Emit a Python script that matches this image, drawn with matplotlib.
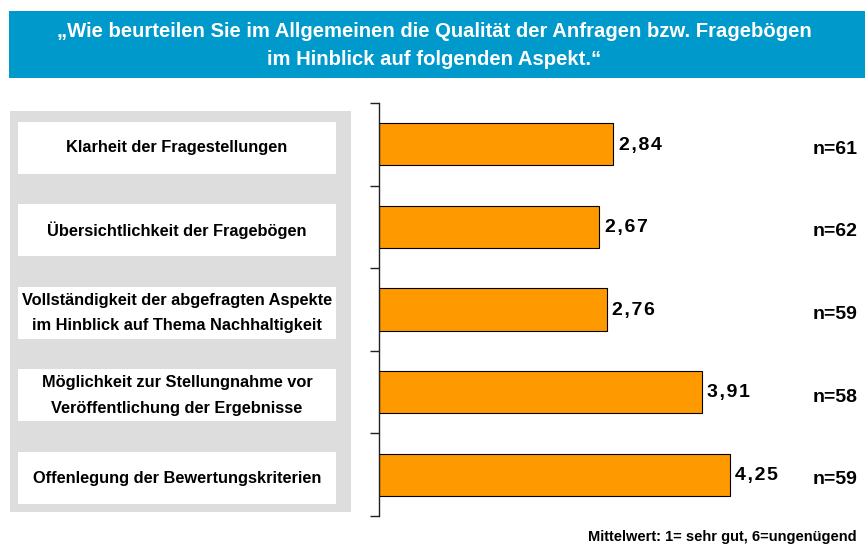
import matplotlib
matplotlib.use("Agg")
import matplotlib.pyplot as plt
from matplotlib.patches import Rectangle

plt.rcParams['font.family'] = ['Liberation Sans', 'DejaVu Sans']

# ---- data ----
categories = [
    "Klarheit der Fragestellungen",
    "Übersichtlichkeit der Fragebögen",
    "Vollständigkeit der abgefragten Aspekte\nim Hinblick auf Thema Nachhaltigkeit",
    "Möglichkeit zur Stellungnahme vor\nVeröffentlichung der Ergebnisse",
    "Offenlegung der Bewertungskriterien",
]
means = [2.84, 2.67, 2.76, 3.91, 4.25]
n_values = [61, 62, 59, 58, 59]
title = "„Wie beurteilen Sie im Allgemeinen die Qualität der Anfragen bzw. Fragebögen\nim Hinblick auf folgenden Aspekt.“"
footnote = "Mittelwert: 1= sehr gut, 6=ungenügend"

W, H = 866, 549
fig = plt.figure(figsize=(W / 100, H / 100), dpi=100)

def fx(px):
    return px / W

def fy(py):
    return 1 - py / H

# title banner
fig.patches.append(Rectangle((fx(9), fy(78)), fx(865) - fx(9), fy(11) - fy(78),
                             transform=fig.transFigure, facecolor="#0099CC",
                             edgecolor="none", zorder=0))
fig.text(fx(434), fy(45.5), title, color="white", fontsize=14.6, fontweight="bold",
         ha="center", va="center", linespacing=1.65)

# main bar axes
ax_left, ax_right, ax_top, ax_bot = 379, 866, 103, 516
ax = fig.add_axes([fx(ax_left), fy(ax_bot), fx(ax_right) - fx(ax_left), fy(ax_top) - fy(ax_bot)])
ax.set_facecolor("none")
ypos = list(range(len(categories)))
ax.barh(ypos, means, height=0.51, color="#FF9900", edgecolor="black", linewidth=0.8)
ax.set_xlim(0, (ax_right - ax_left) / 82.5)
ax.set_ylim(len(categories) - 0.5, -0.5)
for s in ["top", "right", "bottom"]:
    ax.spines[s].set_visible(False)
ax.spines["left"].set_color("#222222")
ax.spines["left"].set_linewidth(1.0)
ax.set_xticks([])
ax.set_yticks([i - 0.5 for i in range(len(categories) + 1)])
ax.set_yticklabels([])
ax.tick_params(axis="y", direction="out", length=6.5, width=1.0, color="#222222")

HAIR = "\u200a"
for i, v in enumerate(means):
    label = HAIR.join(f"{v:.2f}".replace(".", ","))
    ax.text(v + 0.07, i + 0.01, label, fontsize=14, fontweight="bold",
            ha="left", va="center", color="black")

nx = (858 - ax_left) / (ax_right - ax_left)
for i, n in enumerate(n_values):
    ax.text(nx, i + 0.06, f"n={n}", transform=ax.get_yaxis_transform(), fontsize=14,
            fontweight="bold", ha="right", va="center", color="black")

# left label panel
p_left, p_right = 10, 351
ax2 = fig.add_axes([fx(p_left), fy(ax_bot), fx(p_right) - fx(p_left), fy(ax_top) - fy(ax_bot)])
ax2.set_xlim(0, p_right - p_left)
ax2.set_ylim(len(categories) - 0.5 - 0.04, -0.5 - 0.04)
ax2.axis("off")
ax2.add_patch(Rectangle((0, (ax_bot - 512) / (ax_bot - ax_top)), 1,
                        (512 - 111) / (ax_bot - ax_top), transform=ax2.transAxes,
                        facecolor="#DDDDDD", edgecolor="none", zorder=0))
ax2.barh(ypos, [318] * len(categories), left=8, height=0.63, color="white",
         edgecolor="none", zorder=1)
for i, c in enumerate(categories):
    ax2.text(8 + 159, i, c, fontsize=11.8, fontweight="bold", ha="center", va="center",
             linespacing=1.85, zorder=2)

fig.text(fx(857), fy(537), footnote, fontsize=10.5, fontweight="bold", ha="right", va="center")

fig.savefig("out.png", dpi=100)
